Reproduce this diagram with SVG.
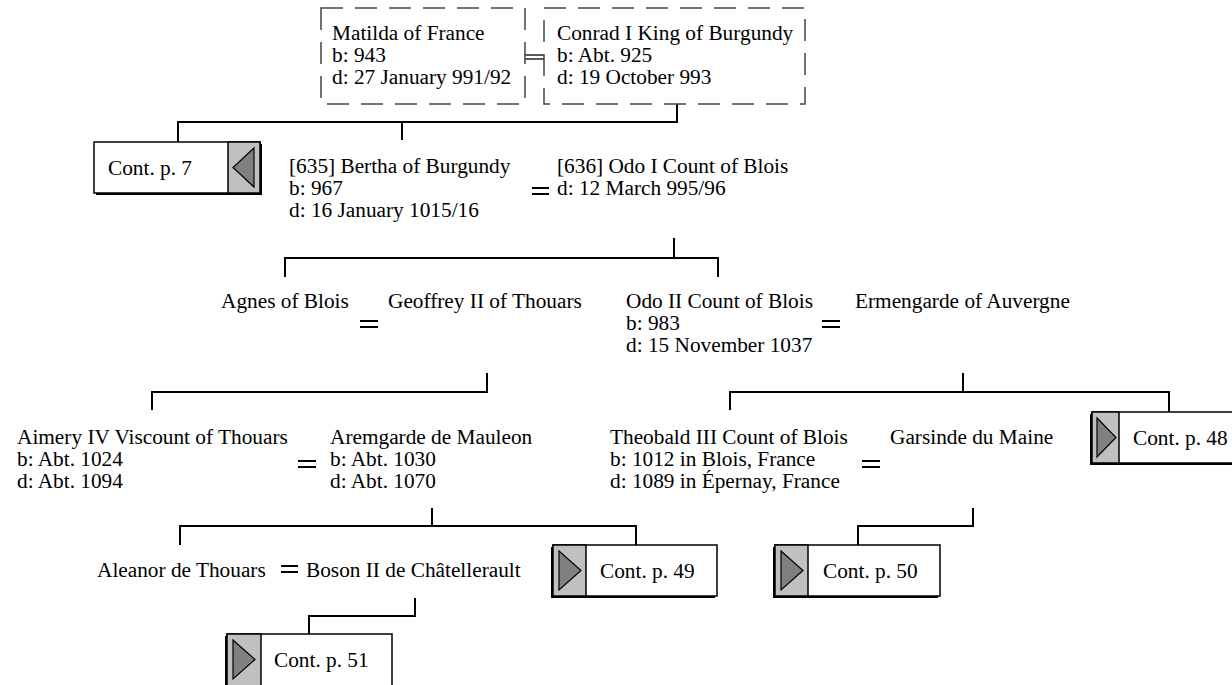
<svg xmlns="http://www.w3.org/2000/svg" width="1232" height="685" viewBox="0 0 1232 685">
<style>
text{font-family:'Liberation Serif','Times New Roman',Times,'Nimbus Roman','DejaVu Serif',serif;font-size:21.3px;fill:#000}
.dash{fill:#fff;stroke:#444;stroke-width:1.5;stroke-dasharray:22 12}
.ln{fill:none;stroke:#000;stroke-width:2}
.eq{stroke:#000;stroke-width:2}
.shadow{fill:#000}
.box{fill:#fff;stroke:#000;stroke-width:1.5}
.grey{fill:#c0c0c0;stroke:#000;stroke-width:1.5}
.tri{fill:#808080;stroke:#000;stroke-width:1.2}
</style>
<rect width="1232" height="685" fill="#fff"/>
<g id="connectors">
  <line class="eq" x1="525" y1="55" x2="544" y2="55" style="stroke-width:1.3"/>
  <line class="eq" x1="525" y1="59" x2="544" y2="59" style="stroke-width:1.3"/>
  <polyline class="ln" points="677,104 677,122 178,122 178,142"/>
  <line class="ln" x1="402" y1="122" x2="402" y2="140"/>
  <line class="eq" x1="532" y1="188" x2="549" y2="188"/>
  <line class="eq" x1="532" y1="194" x2="549" y2="194"/>
  <polyline class="ln" points="285,277 285,258 718,258 718,277"/>
  <line class="ln" x1="674" y1="238" x2="674" y2="258"/>
  <line class="eq" x1="360" y1="321" x2="378" y2="321"/>
  <line class="eq" x1="360" y1="327" x2="378" y2="327"/>
  <line class="eq" x1="822" y1="321" x2="840" y2="321"/>
  <line class="eq" x1="822" y1="327" x2="840" y2="327"/>
  <polyline class="ln" points="487,373 487,392 152,392 152,410"/>
  <polyline class="ln" points="730,410 730,392 1169,392 1169,412"/>
  <line class="ln" x1="963" y1="373" x2="963" y2="392"/>
  <line class="eq" x1="298" y1="461" x2="316" y2="461"/>
  <line class="eq" x1="298" y1="467" x2="316" y2="467"/>
  <line class="eq" x1="862" y1="461" x2="880" y2="461"/>
  <line class="eq" x1="862" y1="467" x2="880" y2="467"/>
  <polyline class="ln" points="180,545 180,526 636,526 636,545"/>
  <line class="ln" x1="432" y1="508" x2="432" y2="526"/>
  <polyline class="ln" points="973,508 973,526 858,526 858,545"/>
  <line class="eq" x1="281" y1="566" x2="298" y2="566"/>
  <line class="eq" x1="281" y1="572" x2="298" y2="572"/>
  <polyline class="ln" points="415,598 415,616 309,616 309,634"/>
</g>
<g id="matilda">
  <rect class="dash" x="321" y="8" width="204" height="96"/>
  <text x="332" y="40">Matilda of France</text>
  <text x="332" y="62">b: 943</text>
  <text x="332" y="84">d: 27 January 991/92</text>
</g>
<g id="conrad">
  <rect class="dash" x="544" y="8" width="261" height="96"/>
  <text x="557" y="40">Conrad I King of Burgundy</text>
  <text x="557" y="62">b: Abt. 925</text>
  <text x="557" y="84">d: 19 October 993</text>
</g>
<g id="cont7">
  <rect class="shadow" x="96" y="144" width="166" height="51"/>
  <rect class="box" x="94" y="142" width="166" height="51"/>
  <rect class="grey" x="228" y="142" width="32" height="51"/>
  <polygon class="tri" points="254,148 233,167.5 254,187"/>
  <text x="108" y="175">Cont. p. 7</text>
</g>
<g id="bertha">
  <text x="289" y="173">[635] Bertha of Burgundy</text>
  <text x="289" y="195">b: 967</text>
  <text x="289" y="217">d: 16 January 1015/16</text>
</g>
<g id="odo1">
  <text x="557" y="173">[636] Odo I Count of Blois</text>
  <text x="557" y="195">d: 12 March 995/96</text>
</g>
<g id="agnes"><text x="221" y="308">Agnes of Blois</text></g>
<g id="geoffrey"><text x="388" y="308">Geoffrey II of Thouars</text></g>
<g id="odo2">
  <text x="626" y="308">Odo II Count of Blois</text>
  <text x="626" y="330">b: 983</text>
  <text x="626" y="352">d: 15 November 1037</text>
</g>
<g id="ermengarde"><text x="855" y="308">Ermengarde of Auvergne</text></g>
<g id="aimery">
  <text x="17" y="444">Aimery IV Viscount of Thouars</text>
  <text x="17" y="466">b: Abt. 1024</text>
  <text x="17" y="488">d: Abt. 1094</text>
</g>
<g id="aremgarde">
  <text x="330" y="444">Aremgarde de Mauleon</text>
  <text x="330" y="466">b: Abt. 1030</text>
  <text x="330" y="488">d: Abt. 1070</text>
</g>
<g id="theobald">
  <text x="610" y="444">Theobald III Count of Blois</text>
  <text x="610" y="466">b: 1012 in Blois, France</text>
  <text x="610" y="488">d: 1089 in Épernay, France</text>
</g>
<g id="garsinde"><text x="890" y="444">Garsinde du Maine</text></g>
<g id="cont48">
  <rect class="shadow" x="1090" y="414" width="166" height="51"/>
  <rect class="box" x="1092" y="412" width="166" height="51"/>
  <rect class="grey" x="1092" y="412" width="27" height="51"/>
  <polygon class="tri" points="1097,418 1116,437.5 1097,457"/>
  <text x="1133" y="445">Cont. p. 48</text>
</g>
<g id="aleanor"><text x="97" y="577">Aleanor de Thouars</text></g>
<g id="boson"><text x="306" y="577">Boson II de Châtellerault</text></g>
<g id="cont49">
  <rect class="shadow" x="551" y="547" width="164" height="51"/>
  <rect class="box" x="553" y="545" width="164" height="51"/>
  <rect class="grey" x="553" y="545" width="33" height="51"/>
  <polygon class="tri" points="559,551 581,570.5 559,590"/>
  <text x="600" y="578">Cont. p. 49</text>
</g>
<g id="cont50">
  <rect class="shadow" x="773" y="547" width="165" height="51"/>
  <rect class="box" x="775" y="545" width="165" height="51"/>
  <rect class="grey" x="775" y="545" width="33" height="51"/>
  <polygon class="tri" points="781,551 803,570.5 781,590"/>
  <text x="823" y="578">Cont. p. 50</text>
</g>
<g id="cont51">
  <rect class="shadow" x="225" y="636" width="165" height="60"/>
  <rect class="box" x="227" y="634" width="165" height="60"/>
  <rect class="grey" x="227" y="634" width="34" height="60"/>
  <polygon class="tri" points="233,640 255,659.5 233,679"/>
  <text x="274" y="667">Cont. p. 51</text>
</g>
</svg>
